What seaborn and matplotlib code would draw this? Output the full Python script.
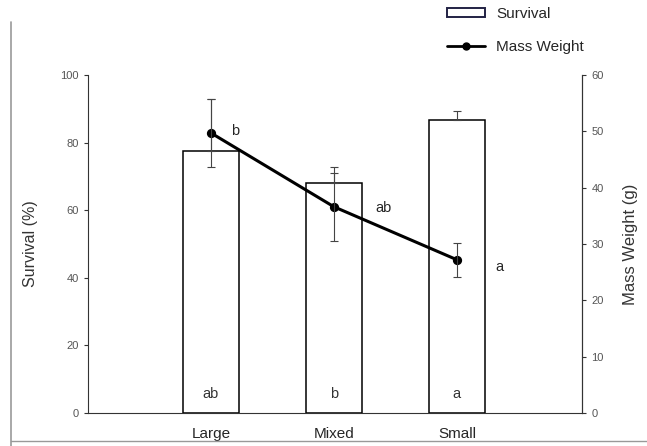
import numpy as np
import pandas as pd
import seaborn as sns
import matplotlib.pyplot as plt
from matplotlib.lines import Line2D
from matplotlib.patches import Patch


# ==================== Data ====================

groups = ["Large", "Mixed", "Small"]
survival = [77.5, 68.0, 86.7]
survival_err = [15.3, 4.8, 2.6]
mass_weight = [49.7, 36.6, 27.2]
mass_err = [6.0, 6.0, 3.0]
bar_letters = ["ab", "b", "a"]
mass_letters = ["b", "ab", "a"]

data = pd.DataFrame({"group": groups, "survival": survival, "mass": mass_weight})


# ==================== Plot ====================

sns.set_style("ticks")
plt.rcParams["font.family"] = ["Liberation Sans", "DejaVu Sans"]

fig = plt.figure(figsize=(6.47, 4.46), dpi=100)
ax = fig.add_axes([0.136, 0.074, 0.764, 0.758])

# ---------- Survival bars
sns.barplot(data, x="group", y="survival", ax=ax, color="white",
            edgecolor="black", linewidth=1.1, width=0.46, errorbar=None)
ax.errorbar(range(len(groups)), survival, yerr=[[0] * 3, survival_err],
            fmt="none", ecolor="#444444", elinewidth=0.8, capsize=3, capthick=0.8)

ax.set_ylim(0, 100)
ax.set_yticks([0, 20, 40, 60, 80, 100])
ax.tick_params(axis="y", labelsize=8, length=3, colors="#333333", labelcolor="#555555")
ax.tick_params(axis="x", length=0, labelsize=11, pad=10)
ax.set_xlabel("")
ax.set_ylabel("Survival (%)", fontsize=11.5, labelpad=16, color="#333333")

for i, lab in enumerate(bar_letters):
    ax.text(i, 5.5, lab, ha="center", va="center", fontsize=10.5, color="#333333")

# ---------- Mass weight line
ax2 = ax.twinx()
sns.pointplot(data, x="group", y="mass", ax=ax2, color="black", markers="o",
              markersize=5, linewidth=2.2, errorbar=None)
ax2.errorbar(range(len(groups)), mass_weight, yerr=mass_err, fmt="none",
             ecolor="#444444", elinewidth=0.8, capsize=3, capthick=0.8)
ax2.set_ylim(0, 60)
ax2.set_yticks([0, 10, 20, 30, 40, 50, 60])
ax2.tick_params(axis="y", labelsize=8, length=3, colors="#333333", labelcolor="#555555")
ax2.set_ylabel("Mass Weight (g)", fontsize=12, labelpad=14, color="#333333")
ax2.set_xlabel("")

offsets = [(0.2, 0.3), (0.4, -0.2), (0.35, -1.3)]
for i, lab in enumerate(mass_letters):
    dx, dy = offsets[i]
    ax2.text(i + dx, mass_weight[i] + dy, lab, ha="center", va="center", fontsize=10.5)

ax.set_xlim(-1, 3.02)
ax2.set_xlim(-1, 3.02)

for a in (ax, ax2):
    a.spines["top"].set_visible(False)
    for s in a.spines.values():
        s.set_color("#333333")
ax2.spines["left"].set_visible(False)
ax2.spines["bottom"].set_visible(False)

# ---------- Legend above the plot
handles = [
    Patch(facecolor="white", edgecolor="#222244", linewidth=1.4, label="Survival"),
    Line2D([0], [0], color="black", marker="o", markersize=5, linewidth=2, label="Mass Weight"),
]
fig.legend(handles=handles, loc="upper left", bbox_to_anchor=(0.691, 0.985),
           frameon=False, fontsize=11, handlelength=2.5, handleheight=0.5,
           handletextpad=0.7, labelspacing=1.25, borderpad=0, borderaxespad=0)

# ---------- Scan border
fig.add_artist(Line2D([0.017, 0.017], [0.0, 0.95], color="#999999", linewidth=1.2))
fig.add_artist(Line2D([0.017, 1.0], [0.012, 0.012], color="#999999", linewidth=1.0))

plt.savefig("out.png", dpi=100)
